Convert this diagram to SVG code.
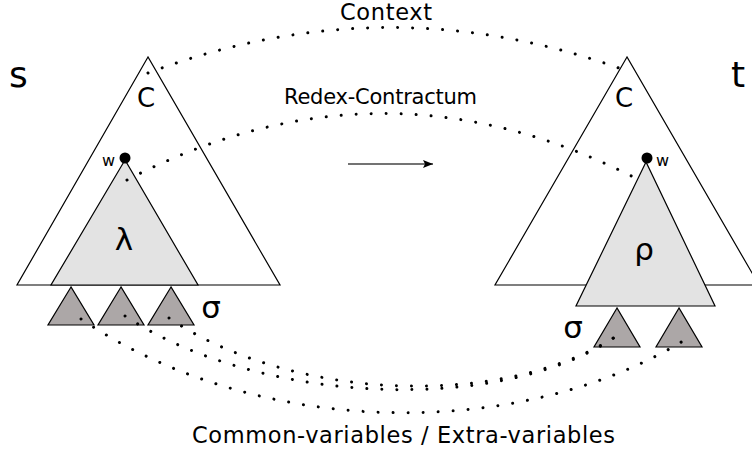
<svg xmlns="http://www.w3.org/2000/svg" width="752" height="455" viewBox="0 0 752 455">
  <defs>
    <style>
      text { font-family: "DejaVu Sans", "Liberation Sans", sans-serif; fill: #000; }
      .outer { fill: #ffffff; stroke: #000; stroke-width: 1.2; stroke-linejoin: miter; }
      .inner { fill: #e3e3e3; stroke: #000; stroke-width: 1.2; }
      .sub { fill: #aca7a7; stroke: #000; stroke-width: 1.2; }
      .dots { fill: none; stroke: #000; stroke-width: 3; stroke-linecap: round; stroke-dasharray: 0.01 15; }
      .lbl { font-size: 21px; }
      .lbl2 { font-size: 22.5px; }
      .big { font-size: 36px; }
      .mid { font-size: 26px; text-anchor: middle; }
      .greek { font-size: 31px; text-anchor: middle; }
      .w { font-size: 16px; }
    </style>
    <marker id="arrowhead" viewBox="0 0 10 8" refX="10" refY="4" markerWidth="10" markerHeight="8" markerUnits="userSpaceOnUse" orient="auto">
      <path d="M0,0 L10,4 L0,8 L2,4 Z" fill="#000"/>
    </marker>
  </defs>

  <!-- left term s -->
  <g id="term-s">
    <polygon class="outer" points="148,57 17,285 280,285"/>
    <polygon class="inner" points="125,160 51,285 198,285"/>
    <circle cx="125" cy="158" r="5.5" fill="#000"/>
    <text class="big" x="9" y="87">s</text>
    <text class="mid" x="146" y="107">C</text>
    <text class="w" x="102" y="166">w</text>
    <text class="greek" x="124" y="250">λ</text>
  </g>

  <g id="sigma-s">
    <polygon class="sub" points="71,287 48,325 94,325"/>
    <polygon class="sub" points="121,287 98,325 144,325"/>
    <polygon class="sub" points="171,287 148,325 194,325"/>
    <text class="greek" x="211" y="318">σ</text>
  </g>

  <!-- right term t -->
  <g id="term-t">
    <polygon class="outer" points="627,57 495,285 759,285"/>
    <polygon class="inner" points="646,162 576,306 715,306"/>
    <circle cx="647" cy="158" r="5.5" fill="#000"/>
    <text class="big" x="731" y="87">t</text>
    <text class="mid" x="624" y="107">C</text>
    <text class="w" x="656" y="166">w</text>
    <text class="greek" x="644" y="260">ρ</text>
  </g>

  <g id="sigma-t">
    <polygon class="sub" points="617,308 594,347 640,347"/>
    <polygon class="sub" points="679,308 656,347 702,347"/>
    <text class="greek" x="573" y="338">σ</text>
  </g>

  <!-- rewrite arrow -->
  <g id="step">
    <line x1="348" y1="164" x2="433" y2="164" stroke="#444" stroke-width="1.6" marker-end="url(#arrowhead)"/>
  </g>

  <!-- dotted correspondences -->
  <g id="connectors">
    <path class="dots" d="M148,73 Q388,-17 627,71"/>
    <path class="dots" d="M127,180 Q385,46 643,182"/>
    <path class="dots" d="M81,319 C260,440 520,440 683,341"/>
    <path class="dots" d="M125,316 C260,405 500,415 615,337"/>
    <path class="dots" d="M169,318 C290,400 500,410 615,337"/>
  </g>

  <g id="labels">
    <text class="lbl2" x="340" y="20" textLength="92" lengthAdjust="spacing">Context</text>
    <text class="lbl" x="284" y="104" textLength="193" lengthAdjust="spacing">Redex-Contractum</text>
    <text class="lbl2" x="192" y="443" textLength="423" lengthAdjust="spacing">Common-variables / Extra-variables</text>
  </g>
</svg>
